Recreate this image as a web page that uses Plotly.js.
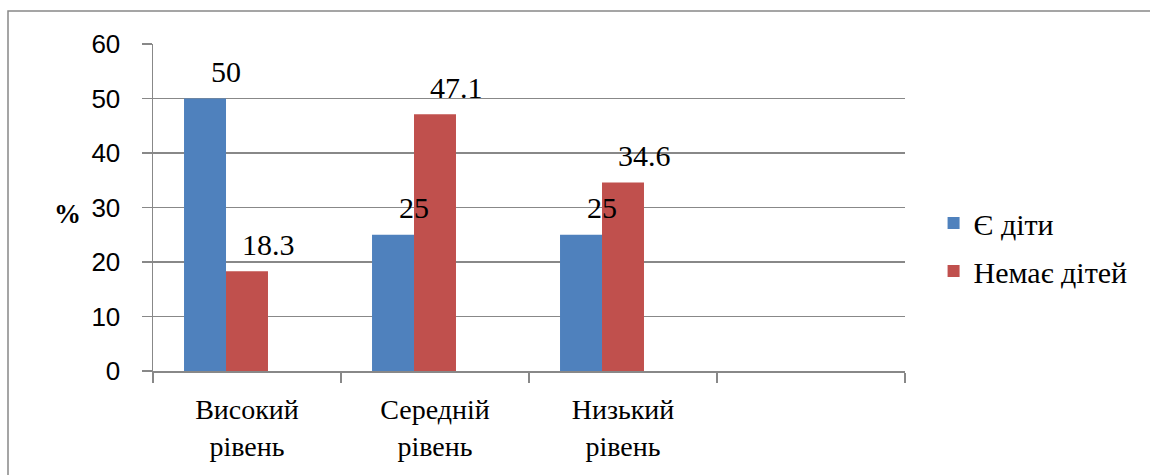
<!DOCTYPE html>
<html>
<head>
<meta charset="utf-8">
<script src="https://cdn.plot.ly/plotly-3.0.1.min.js"></script>
<style>
html,body{margin:0;padding:0;background:#fff;}
#chart{width:1150px;height:475px;}
html body #chart svg text{font-family:"Liberation Serif","Times New Roman",serif !important;}
html body #chart svg g.ytick text{font-family:"Liberation Sans",Arial,sans-serif !important;}
</style>
</head>
<body>
<div id="chart"></div>
<script>
const categories = ["Високий<br>рівень", "Середній<br>рівень", "Низький<br>рівень", " "];
const seriesNames = ["Є діти", "Немає дітей"];
const withChildren = [50, 25, 25, null];
const noChildren = [18.3, 47.1, 34.6, null];
const emptySeries = [null, null, null, null];
const yTicks = [0, 10, 20, 30, 40, 50, 60];

const SERIF = "Liberation Serif";
const SANS = "Liberation Sans";
function fmt(v){ return v === null ? "" : String(v); }

const traces = [
  {type: "bar", name: seriesNames[0], x: categories, y: withChildren,
   marker: {color: "#4F81BD"}, legendgroup: "a", hoverinfo: "none"},
  {type: "bar", name: seriesNames[1], x: categories, y: noChildren,
   marker: {color: "#C0504D"}, legendgroup: "b", hoverinfo: "none"},
  {type: "bar", name: "", x: categories, y: emptySeries, showlegend: false,
   marker: {color: "#9BBB59"}, hoverinfo: "none"}
];

const labelAnns = [];
[[withChildren, -21], [noChildren, 21]].forEach(([vals, shift]) => {
  vals.forEach((v, i) => {
    if (v === null) return;
    labelAnns.push({x: categories[i], y: v, xref: "x", yref: "y", text: fmt(v),
      showarrow: false, xshift: shift, yshift: 27, xanchor: "center", yanchor: "middle",
      font: {family: SERIF, size: 30, color: "#000"}});
  });
});

const layout = {
  width: 1150, height: 475,
  margin: {l: 153, r: 245, t: 44, b: 104},
  paper_bgcolor: "#fff", plot_bgcolor: "#fff",
  font: {family: SERIF, size: 20, color: "#000"},
  barmode: "group", bargap: 0.33, bargroupgap: 0,
  showlegend: true,
  legend: {x: 1.038, y: 0.379, xanchor: "left", yanchor: "middle",
           font: {family: SERIF, size: 30, color: "#000"},
           traceorder: "grouped", tracegroupgap: 6, itemwidth: 30},
  xaxis: {type: "category", tickson: "boundaries", ticks: "outside", ticklen: 10,
          tickcolor: "#888", tickwidth: 1.5, showline: true, linecolor: "#888", linewidth: 1.5,
          tickfont: {family: SERIF, size: 28, color: "#000"}, showgrid: false,
          ticklabelstandoff: 13, range: [-0.5, 3.5]},
  yaxis: {range: [0, 60], tickvals: yTicks, ticks: "outside", ticklen: 10,
          tickcolor: "#888", tickwidth: 1.5, showline: true, linecolor: "#888", linewidth: 1.5,
          showgrid: true, gridcolor: "#888", gridwidth: 1.5, zeroline: false,
          tickfont: {family: SANS, size: 26, color: "#000"},
          ticklabelstandoff: 16},
  annotations: labelAnns.concat([
    {text: "<b>%</b>", xref: "paper", yref: "paper", x: (67 - 153) / 752, y: (371 - 214) / 327,
     xanchor: "center", yanchor: "middle", showarrow: false,
     font: {family: SERIF, size: 27, color: "#000"}}
  ]),
  shapes: [
    {type: "rect", xref: "paper", yref: "paper",
     x0: (8 - 153) / 752, x1: (1160 - 153) / 752, y0: (371 - 490) / 327, y1: (371 - 11) / 327,
     line: {color: "#888", width: 1.5}, fillcolor: "rgba(0,0,0,0)", layer: "below"}
  ]
};

Plotly.newPlot("chart", traces, layout, {displayModeBar: false, staticPlot: true});
</script>
</body>
</html>
